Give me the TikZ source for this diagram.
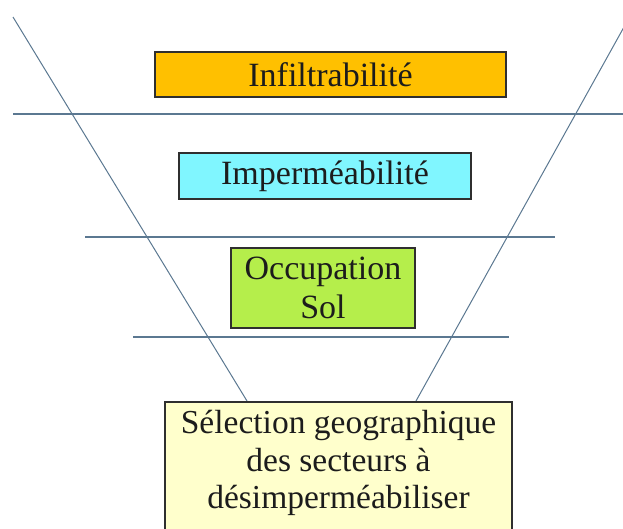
\documentclass[tikz,border=0pt]{standalone}
\usepackage{fontspec}
\setmainfont{Liberation Serif}
\definecolor{fillgold}{HTML}{FFC000}
\definecolor{fillcyan}{HTML}{80F6FF}
\definecolor{fillgreen}{HTML}{B5EE4B}
\definecolor{fillcream}{HTML}{FFFFCC}
\definecolor{linec}{HTML}{5B7891}
\definecolor{boxline}{HTML}{2F2F2F}
\definecolor{txt}{HTML}{1C1C1C}
\begin{document}
\begin{tikzpicture}[x=1pt,y=-1pt,
  funnel/.style={draw=linec, line width=1pt},
  level/.style={draw=linec, line width=1.2pt},
  box/.style={draw=boxline, line width=1.5pt, inner sep=0pt, text=txt,
    font=\fontsize{34}{39}\selectfont, align=center},
  boxtext/.style={inner sep=0pt, text=txt,
    font=\fontsize{33.5}{37.5}\selectfont, align=center}]
\useasboundingbox (0,0) rectangle (623,528);
\clip (0,0) rectangle (623,528);

% funnel sides
\coordinate (lt) at (13,17);
\coordinate (lb) at (247,401);
\coordinate (rt) at (624,27);
\coordinate (rb) at (416,401);
\draw[funnel] (lt) -- (lb);
\draw[funnel] (rt) -- (rb);

% level separators
\coordinate (h1a) at (13,114);  \coordinate (h1b) at (623,114);
\coordinate (h2a) at (85,237);  \coordinate (h2b) at (555,237);
\coordinate (h3a) at (133,337); \coordinate (h3b) at (509,337);
\draw[level] (h1a) -- (h1b);
\draw[level] (h2a) -- (h2b);
\draw[level] (h3a) -- (h3b);

% filter stages
\node[box, fill=fillgold, minimum width=351pt, minimum height=45pt] (infil) at (330.5,74.5) {Infiltrabilité};
\node[box, fill=fillcyan, minimum width=292pt, minimum height=46pt] (imper) at (325,176) {Imperméabilité};
\node[box, fill=fillgreen, minimum width=184pt, minimum height=80pt] (occup) at (323,288) {Occupation\\Sol};

% result
\node[box, fill=fillcream, minimum width=347pt, minimum height=135pt, anchor=north] (selec) at (338.5,401) {};
\node[boxtext, anchor=north] (seltxt) at (338.5,410) {Sélection geographique\\des secteurs à\\désimperméabiliser};
\end{tikzpicture}
\end{document}
